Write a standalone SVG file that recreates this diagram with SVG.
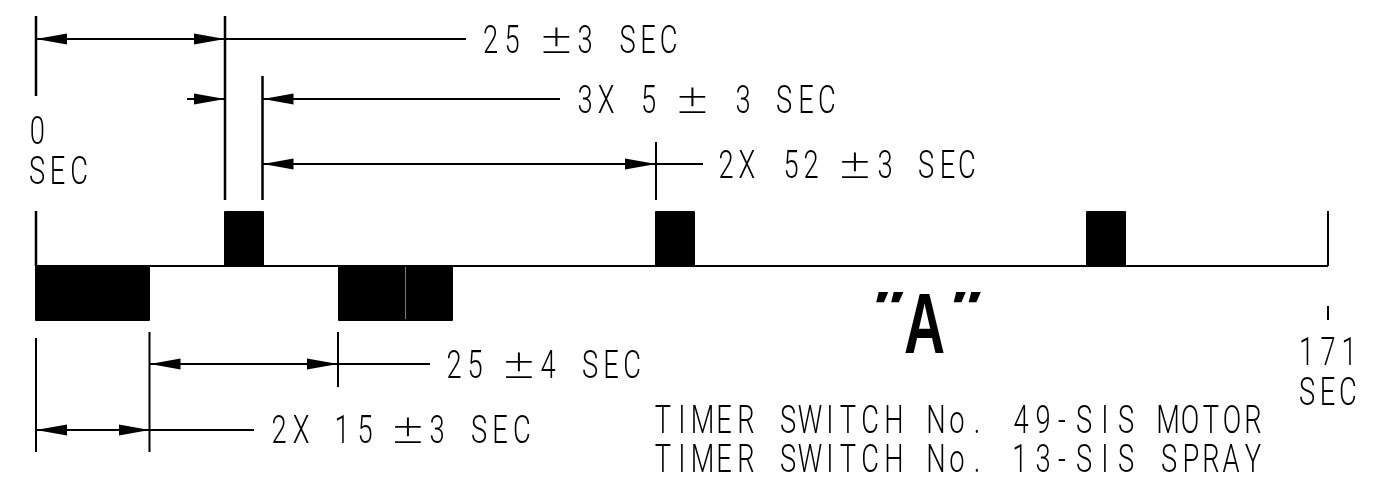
<svg xmlns="http://www.w3.org/2000/svg" width="1375" height="490" viewBox="0 0 1375 490">
<style>
.t{font-family:"Roboto","Liberation Sans",Arial,sans-serif;font-weight:300;font-size:39px;fill:#000;text-anchor:middle}
.p{font-family:"DejaVu Sans","Liberation Sans",sans-serif;font-weight:200;font-size:41px;fill:#000;text-anchor:middle}
.q{font-family:"Liberation Sans",Arial,sans-serif;font-weight:700;fill:#000;text-anchor:middle}
.l{stroke:#000;stroke-width:2;fill:none}
.k{stroke:#000;stroke-width:2.500;fill:none}
.a{marker-start:url(#h);marker-end:url(#h)}
.b{fill:#000;stroke:#000;stroke-width:2;stroke-linejoin:round}
</style>
<defs>
<marker id="h" markerUnits="userSpaceOnUse" viewBox="0 0 31 12" refX="31" refY="6" markerWidth="31" markerHeight="12" orient="auto-start-reverse"><path d="M0 .5L31 6L0 11.500Z" fill="#000"/></marker>
</defs>
<rect width="1375" height="490" fill="#fff"/>
<g id="connectors">
<path class="k" d="M36 16V96M225 16V200M262.500 76V200M36 211V266"/>
<path class="l" d="M656 142V200M1328 211V266M36 266H1328M1328 306V320M36 338V452M149.500 332V452M338 332V387"/>
<path class="l a" d="M36 39H225"/><path class="l" d="M225 39H466"/>
<path class="l" style="marker-end:url(#h)" d="M187 99H225"/>
<path class="l" style="marker-start:url(#h)" d="M262.500 99H560"/>
<path class="l a" d="M262.500 164H656"/><path class="l" d="M656 164H703"/>
<path class="l a" d="M149.500 364H338"/><path class="l" d="M338 364H430"/>
<path class="l a" d="M36 430H149.500"/><path class="l" d="M149.500 430H254"/>
</g>
<g id="pulse-1"><rect class="b" x="225" y="212" width="38" height="54"/></g>
<g id="pulse-2"><rect class="b" x="656" y="212" width="38" height="54"/></g>
<g id="pulse-3"><rect class="b" x="1087" y="212" width="38" height="54"/></g>
<g id="spray-1"><rect class="b" x="36" y="266" width="113" height="54"/></g>
<g id="spray-2"><rect class="b" x="339" y="266" width="113" height="54"/><path d="M405.500 267V319" stroke="#777" stroke-width="1"/></g>
<g id="labels" opacity=".999">
<g id="label-25-3"><text class="t" transform="scale(.7 1)" y="53" x="700.7 731.4">25</text><text class="p" x="556.500" y="53">±</text><text class="t" transform="scale(.7 1)" y="53" x="835.7 865.7 896.4 925.7 955">3 SEC</text></g>
<g id="label-5-3"><text class="t" transform="scale(.7 1)" y="113" x="835.7 865.7 895.7 926.7">3X 5</text><text class="p" x="692.500" y="113">±</text><text class="t" transform="scale(.7 1)" y="113" x="1061.4 1090 1120 1151.4 1181.4">3 SEC</text></g>
<g id="label-52-3"><text class="t" transform="scale(.7 1)" y="178" x="1037.1 1067.1 1098.6 1130 1158.6">2X 52</text><text class="p" x="855" y="178">±</text><text class="t" transform="scale(.7 1)" y="178" x="1264.3 1292.9 1322.9 1353.6 1381.4">3 SEC</text></g>
<g id="label-zero"><text class="t" transform="scale(.7 1)" y="144" x="53.300">0</text><text class="t" transform="scale(.7 1)" y="184" x="52.900 82.100 112.900">SEC</text></g>
<g id="label-25-4"><text class="t" transform="scale(.7 1)" y="378" x="648.6 678.6">25</text><text class="p" x="519" y="378">±</text><text class="t" transform="scale(.7 1)" y="378" x="782.9 812.9 842.9 872.9 902.9">4 SEC</text></g>
<g id="label-15-3"><text class="t" transform="scale(.7 1)" y="443" x="398.6 430 458.6 488.6 521.4">2X 15</text><text class="p" x="408" y="443">±</text><text class="t" transform="scale(.7 1)" y="443" x="624.3 654.3 684.3 714.3 745.7">3 SEC</text></g>
<g id="label-a"><text class="q" transform="translate(885.500 320) scale(1.8 1)" style="font-size:40px;font-style:italic">"</text><text class="q" transform="translate(924.500 353) scale(.67 1)" style="font-size:85px">A</text><text class="q" transform="translate(963 320) scale(1.8 1)" style="font-size:40px;font-style:italic">"</text></g>
<g id="label-171"><text class="t" transform="scale(.7 1)" y="365" x="1866.7 1897.1 1927.1">171</text><text class="t" transform="scale(.7 1)" y="405" x="1867.1 1896.4 1925.7">SEC</text></g>
<g id="label-timers">
<text class="t" transform="scale(.7 1)" y="433" x="947.1 974.3 1003.6 1034.3 1065.7 1095.7 1125.7 1157.1 1185.7 1211.4 1242.9 1277.1 1307.1 1337.1 1367.1 1395.7 1427.1 1458.6 1490 1517.1 1548.6 1578.6 1608.6 1638.6 1668.6 1700 1730 1760 1790">TIMER SWITCH No. 49-SIS MOTOR</text>
<text class="t" transform="scale(.7 1)" y="472" x="947.1 974.3 1003.6 1034.3 1065.7 1095.7 1125.7 1157.1 1185.7 1211.4 1242.9 1277.1 1307.1 1337.1 1367.1 1395.7 1427.1 1457 1490 1517.1 1548.6 1578.6 1608.6 1638.6 1670 1701.4 1730 1758.6 1790">TIMER SWITCH No. 13-SIS SPRAY</text>
</g>
</g>
</svg>
